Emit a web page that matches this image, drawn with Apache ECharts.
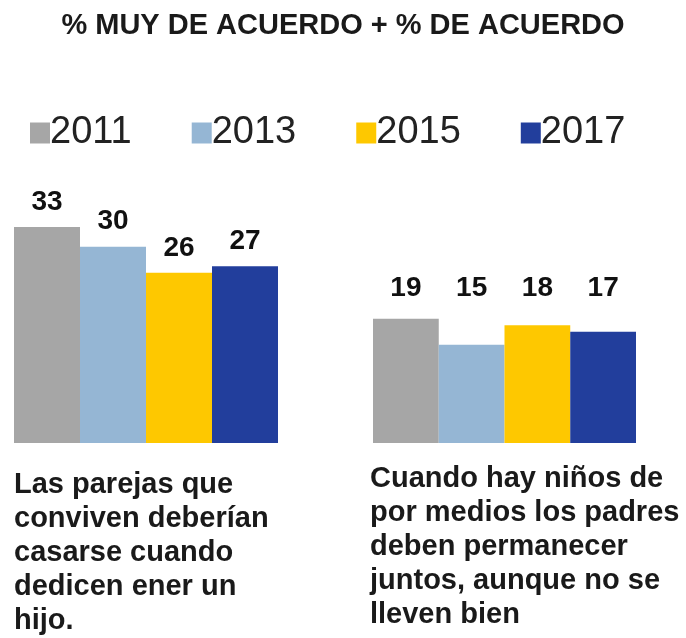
<!DOCTYPE html>
<html>
<head>
<meta charset="utf-8">
<title>% MUY DE ACUERDO + % DE ACUERDO</title>
<script src="https://cdn.jsdelivr.net/npm/echarts@6/dist/echarts.min.js"></script>
<style>
  html, body { margin: 0; padding: 0; background: #fff; }
  #chart { width: 686px; height: 638px; }
</style>
</head>
<body>
<div id="chart"></div>
<script>
// datos
const categories = [
  'Las parejas que\nconviven deberían\ncasarse cuando\ndedicen ener un\nhijo.',
  'Cuando hay niños de\npor medios los padres\ndeben permanecer\njuntos, aunque no se\nlleven bien'
];
const years = ['2011', '2013', '2015', '2017'];
const values2011 = [33, 19];
const values2013 = [30, 15];
const values2015 = [26, 18];
const values2017 = [27, 17];

const allValues = [values2011, values2013, values2015, values2017];
const colors = ['#a6a6a6', '#95b6d4', '#fec800', '#223e9c'];
const font = '"Liberation Sans", Arial, sans-serif';

// un grid por grupo de barras
const grids = [
  { left: 14, width: 264, top: 227, bottom: 195, outerBoundsMode: 'none' },
  { left: 373, width: 263, top: 227, bottom: 195, outerBoundsMode: 'none' },
];
const labelMargins = [25, 19];
const labelLefts = [14, 370];
const yMax = 33;
const ppu = (638 - 227 - 195) / yMax;

// en el segundo grupo las etiquetas van todas a la misma altura
const groupMax = categories.map((c, i) => Math.max(...allValues.map((s) => s[i])));
function labelDistance(v, i) {
  if (i === 0) return 11;
  return 16 + (groupMax[i] - v) * ppu;
}

const chart = echarts.init(document.getElementById('chart'));

const series = [];
years.forEach((y, k) => {
  categories.forEach((c, i) => {
    const v = allValues[k][i];
    series.push({
      name: y,
      type: 'bar',
      xAxisIndex: i,
      yAxisIndex: i,
      barGap: 0,
      barCategoryGap: 0,
      itemStyle: { color: colors[k] },
      label: {
        show: true,
        position: 'top',
        distance: labelDistance(v, i),
        fontFamily: font,
        fontSize: 28,
        fontWeight: 'bold',
        color: '#111',
      },
      data: [v],
    });
  });
});

const option = {
  animation: false,
  backgroundColor: '#fff',
  title: {
    text: '% MUY DE ACUERDO + % DE ACUERDO',
    left: 'center',
    top: 6,
    textStyle: {
      fontFamily: font,
      fontSize: 29,
      fontWeight: 'bold',
      color: '#1a1a1a',
    },
  },
  legend: {
    data: years,
    left: 30,
    top: 114,
    padding: 0,
    icon: 'rect',
    itemWidth: 20,
    itemHeight: 21,
    itemGap: 60,
    textStyle: {
      fontFamily: font,
      fontSize: 38,
      color: '#222',
      padding: [0, 0, 0, -5],
    },
  },
  grid: grids,
  xAxis: grids.map((g, i) => ({
    type: 'category',
    gridIndex: i,
    data: [categories[i]],
    axisLine: { show: false },
    axisTick: { show: false },
    axisLabel: {
      interval: 0,
      margin: labelMargins[i],
      verticalAlign: 'top',
      formatter: (val) => val.split('\n').map((l) => '{t|' + l + '}').join('\n'),
      rich: {
        t: {
          // caja centrada en el grupo, texto alineado a la izquierda
          width: 2 * (g.left + g.width / 2 - labelLefts[i]),
          align: 'left',
          fontFamily: font,
          fontSize: 29,
          fontWeight: 'bold',
          lineHeight: 34,
          color: '#1a1a1a',
        },
      },
    },
  })),
  yAxis: grids.map((g, i) => ({
    type: 'value',
    gridIndex: i,
    min: 0,
    max: yMax,
    show: false,
    splitLine: { show: false },
  })),
  series: series,
};

chart.setOption(option);
</script>
</body>
</html>
